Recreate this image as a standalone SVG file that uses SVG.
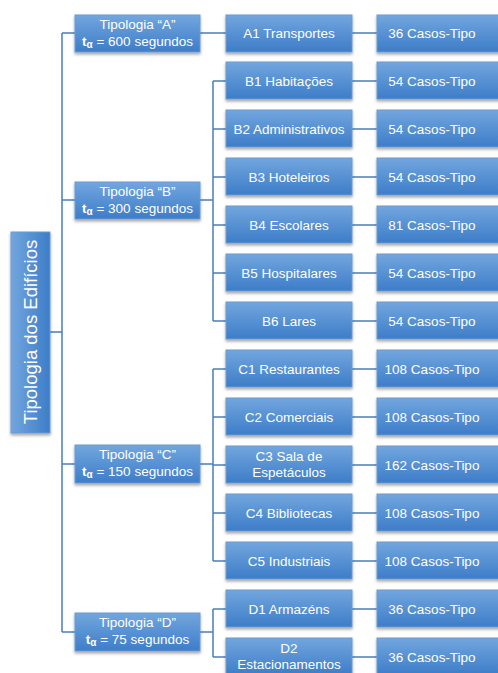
<svg xmlns="http://www.w3.org/2000/svg" width="498" height="673" viewBox="0 0 498 673">
<defs>
<linearGradient id="g" x1="0" y1="0" x2="0" y2="1">
<stop offset="0" stop-color="#72a6de"/>
<stop offset="1" stop-color="#3d7dc8"/>
</linearGradient>
<linearGradient id="gv" x1="0" y1="0" x2="1" y2="0">
<stop offset="0" stop-color="#72a6de"/>
<stop offset="1" stop-color="#3d7dc8"/>
</linearGradient>
<filter id="sh" x="-20%" y="-20%" width="140%" height="160%">
<feDropShadow dx="0" dy="2" stdDeviation="1.5" flood-color="#000" flood-opacity="0.35"/>
</filter>
</defs>
<style>
.b{fill:url(#g);stroke:#6a9ad4;stroke-width:1;filter:url(#sh)}
.bv{fill:url(#gv);stroke:#6a9ad4;stroke-width:1;filter:url(#sh)}
text{font-family:"Liberation Sans",Arial,sans-serif;font-size:13.5px;fill:#fff;text-anchor:middle}
.c{fill:none;stroke:#4a7ebb;stroke-width:1.5}
.t{font-weight:bold}
.s{font-weight:bold;font-size:10px}
</style>
<g id="connectors">
<path class="c" d="M50 332H62M62 33V632M62 33H75M62 200H75M62 464H75M62 632H75"/>
<path class="c" d="M200 33H226M200 200H213M213 81V321M213 81H226M213 129H226M213 177H226M213 225H226M213 273H226M213 321H226"/>
<path class="c" d="M200 464H213M213 369V561M213 369H226M213 417H226M213 465H226M213 513H226M213 561H226"/>
<path class="c" d="M200 632H213M213 609V657M213 609H226M213 657H226"/>
<path class="c" d="M352 33H377M352 81H377M352 129H377M352 177H377M352 225H377M352 273H377M352 321H377M352 369H377M352 417H377M352 465H377M352 513H377M352 561H377M352 609H377M352 657H377"/>
</g>
<g id="root"><rect class="bv" x="11" y="232" width="39" height="201"/><text transform="translate(37 332) rotate(-90)" style="font-size:18.5px">Tipologia dos Edifícios</text></g>
<g id="tA"><rect class="b" x="75" y="15" width="125" height="37"/><text x="137.5" y="29">Tipologia “A”</text><text x="137.5" y="46"><tspan class="t">t</tspan><tspan class="s" dy="2">α</tspan><tspan dy="-2"> = 600 segundos</tspan></text></g>
<g id="tB"><rect class="b" x="75" y="182" width="125" height="37"/><text x="137.5" y="196">Tipologia “B”</text><text x="137.5" y="213"><tspan class="t">t</tspan><tspan class="s" dy="2">α</tspan><tspan dy="-2"> = 300 segundos</tspan></text></g>
<g id="tC"><rect class="b" x="75" y="445" width="125" height="38"/><text x="137.5" y="459">Tipologia “C”</text><text x="137.5" y="476"><tspan class="t">t</tspan><tspan class="s" dy="2">α</tspan><tspan dy="-2"> = 150 segundos</tspan></text></g>
<g id="tD"><rect class="b" x="75" y="613" width="125" height="38"/><text x="137.5" y="627">Tipologia “D”</text><text x="137.5" y="644"><tspan class="t">t</tspan><tspan class="s" dy="2">α</tspan><tspan dy="-2"> = 75 segundos</tspan></text></g>
<g id="A1"><rect class="b" x="226" y="15" width="126" height="37"/><text x="289" y="38">A1 Transportes</text></g>
<g id="B1"><rect class="b" x="226" y="62" width="126" height="37"/><text x="289" y="86">B1 Habitações</text></g>
<g id="B2"><rect class="b" x="226" y="110" width="126" height="37"/><text x="289" y="134">B2 Administrativos</text></g>
<g id="B3"><rect class="b" x="226" y="158" width="126" height="37"/><text x="289" y="182">B3 Hoteleiros</text></g>
<g id="B4"><rect class="b" x="226" y="206" width="126" height="37"/><text x="289" y="230">B4 Escolares</text></g>
<g id="B5"><rect class="b" x="226" y="254" width="126" height="37"/><text x="289" y="278">B5 Hospitalares</text></g>
<g id="B6"><rect class="b" x="226" y="302" width="126" height="37"/><text x="289" y="326">B6 Lares</text></g>
<g id="C1"><rect class="b" x="226" y="350" width="126" height="37"/><text x="289" y="374">C1 Restaurantes</text></g>
<g id="C2"><rect class="b" x="226" y="398" width="126" height="37"/><text x="289" y="422">C2 Comerciais</text></g>
<g id="C3"><rect class="b" x="226" y="446" width="126" height="37"/><text x="289" y="461">C3 Sala de</text><text x="289" y="477">Espetáculos</text></g>
<g id="C4"><rect class="b" x="226" y="494" width="126" height="37"/><text x="289" y="518">C4 Bibliotecas</text></g>
<g id="C5"><rect class="b" x="226" y="542" width="126" height="37"/><text x="289" y="566">C5 Industriais</text></g>
<g id="D1"><rect class="b" x="226" y="590" width="126" height="37"/><text x="289" y="614">D1 Armazéns</text></g>
<g id="D2"><rect class="b" x="226" y="638" width="126" height="37"/><text x="289" y="653">D2</text><text x="289" y="669">Estacionamentos</text></g>
<g id="nA1"><rect class="b" x="377" y="15" width="126" height="37"/><text x="432" y="38">36 Casos-Tipo</text></g>
<g id="nB1"><rect class="b" x="377" y="62" width="126" height="37"/><text x="432" y="86">54 Casos-Tipo</text></g>
<g id="nB2"><rect class="b" x="377" y="110" width="126" height="37"/><text x="432" y="134">54 Casos-Tipo</text></g>
<g id="nB3"><rect class="b" x="377" y="158" width="126" height="37"/><text x="432" y="182">54 Casos-Tipo</text></g>
<g id="nB4"><rect class="b" x="377" y="206" width="126" height="37"/><text x="432" y="230">81 Casos-Tipo</text></g>
<g id="nB5"><rect class="b" x="377" y="254" width="126" height="37"/><text x="432" y="278">54 Casos-Tipo</text></g>
<g id="nB6"><rect class="b" x="377" y="302" width="126" height="37"/><text x="432" y="326">54 Casos-Tipo</text></g>
<g id="nC1"><rect class="b" x="377" y="350" width="126" height="37"/><text x="432" y="374">108 Casos-Tipo</text></g>
<g id="nC2"><rect class="b" x="377" y="398" width="126" height="37"/><text x="432" y="422">108 Casos-Tipo</text></g>
<g id="nC3"><rect class="b" x="377" y="446" width="126" height="37"/><text x="432" y="470">162 Casos-Tipo</text></g>
<g id="nC4"><rect class="b" x="377" y="494" width="126" height="37"/><text x="432" y="518">108 Casos-Tipo</text></g>
<g id="nC5"><rect class="b" x="377" y="542" width="126" height="37"/><text x="432" y="566">108 Casos-Tipo</text></g>
<g id="nD1"><rect class="b" x="377" y="590" width="126" height="37"/><text x="432" y="614">36 Casos-Tipo</text></g>
<g id="nD2"><rect class="b" x="377" y="638" width="126" height="37"/><text x="432" y="662">36 Casos-Tipo</text></g>
</svg>
